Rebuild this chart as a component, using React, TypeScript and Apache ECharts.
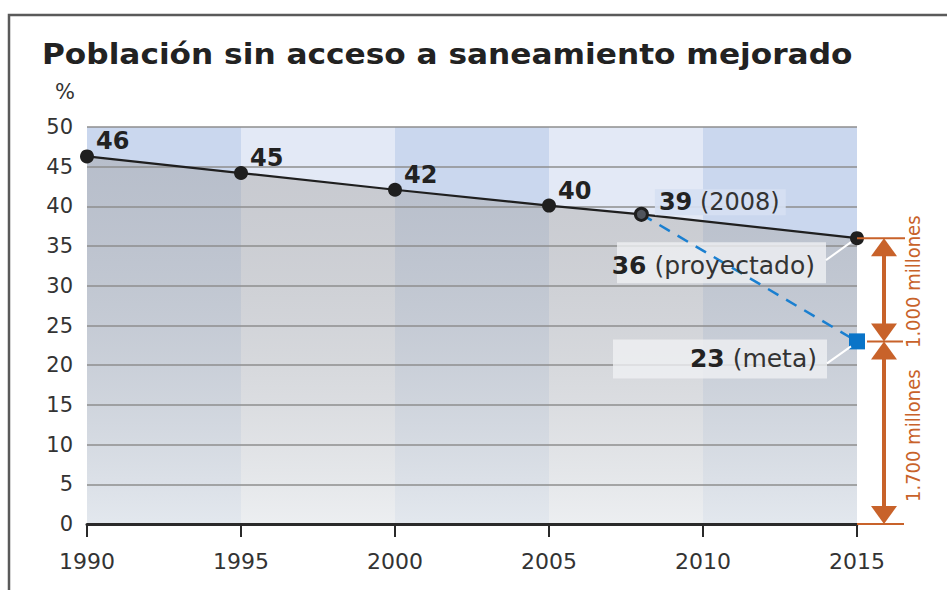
import React, { useEffect, useRef } from "react";
import * as echarts from "echarts";

const titleText = "Población sin acceso a saneamiento mejorado";
const unitText = "%";
const years = [1990, 1995, 2000, 2005, 2008, 2015];
const values = [46.3, 44.2, 42.1, 40.1, 39.0, 36.0];
const valueLabels = ["46", "45", "42", "40", "39", "36"];
const targetYears = [2008, 2015];
const targetValues = [39.0, 23.0];
const bandEdges = [1990, 1995, 2000, 2005, 2010, 2015];
const noteValues = [36, 23];
const noteBold = ["36", "23"];
const noteRest = [" (proyectado)", " (meta)"];
const gapLevels = [36, 23, 0];
const gapLabels = ["1.000 millones", "1.700 millones"];

const FONT = "'DejaVu Sans', 'Open Sans', sans-serif";
const COND_FONT = "'DejaVu Sans Condensed', 'Liberation Sans Narrow', 'DejaVu Sans', sans-serif";
const ORANGE = "#c8622a";

export default function App() {
  const ref = useRef<HTMLDivElement>(null);
  useEffect(() => {
    if (!ref.current) return;
    const chart = echarts.init(ref.current, undefined, { renderer: "svg" });

    const bandData = bandEdges.slice(0, -1).map((s, i) => [s, bandEdges[i + 1]]);

    const mainData = years.map((y, i) => {
      const item: any = { value: [y, values[i]] };
      if (y === 2008) {
        item.symbolSize = 12;
        item.itemStyle = { color: "#50545c", borderColor: "#1f1f1f", borderWidth: 3 };
        item.label = {
          offset: [6, -12],
          backgroundColor: "rgba(214,224,242,0.92)",
          padding: [1, 6, 1, 4],
        };
      }
      if (i === years.length - 1) item.label = { show: false };
      return item;
    });

    const targetData = targetYears.map((y, i) => [y, targetValues[i]]);
    const noteData = noteValues.map((v) => [years[years.length - 1], v]);

    const option: any = {
      animation: false,
      grid: { left: 87, right: 90, top: 127, bottom: 66 },
      graphic: [
        {
          type: "polyline",
          shape: { points: [[947, 15], [9, 15], [9, 590]] },
          style: { stroke: "#5a5a5a", lineWidth: 2.5, fill: "none" },
          z: 10,
        },
        {
          type: "text",
          x: 42,
          y: 54,
          scaleX: 1.115,
          style: {
            text: titleText,
            fontFamily: FONT,
            fontWeight: "bold",
            fontSize: 28,
            fill: "#222",
            verticalAlign: "middle",
          },
          z: 10,
        },
      ],
      xAxis: {
        type: "value",
        min: 1990,
        max: 2015,
        interval: 5,
        z: 3,
        splitLine: { show: false },
        axisLine: { show: true, onZero: false, lineStyle: { color: "#2a2a2a", width: 3 } },
        axisTick: { show: true, length: 13, lineStyle: { color: "#2a2a2a", width: 2 } },
        axisLabel: {
          margin: 26,
          color: "#333",
          fontFamily: FONT,
          fontSize: 22,
          formatter: (v: number) => String(v),
        },
      },
      yAxis: {
        type: "value",
        min: 0,
        max: 50,
        interval: 5,
        z: 2,
        name: unitText,
        nameLocation: "end",
        nameGap: 35,
        nameTextStyle: {
          align: "right",
          verticalAlign: "middle",
          padding: [0, 12, 0, 0],
          color: "#333",
          fontFamily: FONT,
          fontSize: 21,
        },
        axisLine: { show: false },
        axisTick: { show: false },
        splitLine: { show: true, lineStyle: { color: "#8e8e8e", width: 1.5 } },
        axisLabel: { margin: 14, color: "#333", fontFamily: FONT, fontSize: 21 },
      },
      series: [
        {
          type: "custom",
          z: 0,
          silent: true,
          clip: false,
          encode: { x: [0, 1] },
          data: bandData,
          renderItem: (params: any, api: any) => {
            const p0 = api.coord([api.value(0), 50]);
            const p1 = api.coord([api.value(1), 0]);
            return {
              type: "rect",
              shape: { x: p0[0], y: p0[1], width: p1[0] - p0[0], height: p1[1] - p0[1] },
              style: { fill: params.dataIndex % 2 === 0 ? "#cad7ee" : "#e3e9f6" },
            };
          },
        },
        {
          type: "line",
          z: 1,
          silent: true,
          symbol: "none",
          data: years.map((y, i) => [y, values[i]]),
          lineStyle: { width: 0 },
          areaStyle: {
            color: new echarts.graphic.LinearGradient(0, 0, 0, 1, [
              { offset: 0, color: "rgba(150,146,141,0.36)" },
              { offset: 1, color: "rgba(242,242,238,0.62)" },
            ]),
            opacity: 1,
          },
        },
        {
          type: "custom",
          z: 3,
          silent: true,
          clip: false,
          data: noteData,
          renderItem: (params: any, api: any) => {
            const p = api.coord([api.value(0), api.value(1)]);
            const i = params.dataIndex;
            const box = i === 0 ? { x: p[0] - 240, y: p[1] + 4, w: 209, h: 41 } : { x: p[0] - 244, y: p[1] - 2, w: 214, h: 39 };
            return {
              type: "rect",
              shape: { x: box.x, y: box.y, width: box.w, height: box.h },
              style: { fill: "rgba(240,241,243,0.78)" },
            };
          },
        },
        {
          type: "line",
          z: 4,
          clip: false,
          data: targetData,
          symbol: "rect",
          symbolSize: (_v: any, p: any) => (p.dataIndex === targetData.length - 1 ? 16 : 0),
          itemStyle: { color: "#0a74c8" },
          lineStyle: { color: "#1a7fd0", width: 2.5, type: [12, 9] },
        },
        {
          type: "line",
          z: 4,
          clip: false,
          data: mainData,
          symbol: "circle",
          symbolSize: 14,
          itemStyle: { color: "#1f1f1f" },
          lineStyle: { color: "#1f1f1f", width: 2.2 },
          label: {
            show: true,
            position: "right",
            distance: 0,
            offset: [2, -15],
            color: "#222",
            fontFamily: FONT,
            fontSize: 24,
            fontWeight: "bold",
            formatter: (p: any) =>
              years[p.dataIndex] === 2008
                ? `{b|${valueLabels[p.dataIndex]}}{n| (2008)}`
                : valueLabels[p.dataIndex],
            rich: {
              b: { fontFamily: FONT, fontSize: 24, fontWeight: "bold", color: "#222" },
              n: { fontFamily: FONT, fontSize: 24, fontWeight: "normal", color: "#333" },
            },
          },
        },
        {
          type: "custom",
          z: 5,
          silent: true,
          clip: false,
          data: noteData,
          renderItem: (params: any, api: any) => {
            const p = api.coord([api.value(0), api.value(1)]);
            const i = params.dataIndex;
            const lead = i === 0 ? [p[0] - 31, p[1] + 22, p[0] - 6, p[1] + 4] : [p[0] - 30, p[1] + 22, p[0] - 6, p[1] + 5];
            const tx = i === 0 ? p[0] - 42 : p[0] - 40;
            const ty = i === 0 ? p[1] + 27 : p[1] + 17;
            return {
              type: "group",
              children: [
                {
                  type: "line",
                  shape: { x1: lead[0], y1: lead[1], x2: lead[2], y2: lead[3] },
                  style: { stroke: "#ffffff", lineWidth: 2 },
                },
                {
                  type: "text",
                  x: tx,
                  y: ty,
                  style: {
                    text: `{b|${noteBold[i]}}{n|${noteRest[i]}}`,
                    align: "right",
                    verticalAlign: "middle",
                    rich: {
                      b: { fontFamily: FONT, fontSize: 25, fontWeight: "bold", fill: "#222" },
                      n: { fontFamily: FONT, fontSize: 25, fontWeight: "normal", fill: "#333" },
                    },
                  },
                },
              ],
            };
          },
        },
        {
          type: "custom",
          z: 5,
          silent: true,
          clip: false,
          data: [[years[years.length - 1], ...gapLevels]],
          renderItem: (_params: any, api: any) => {
            const x = api.value(0);
            const pa = api.coord([x, api.value(1)]);
            const pb = api.coord([x, api.value(2)]);
            const pc = api.coord([x, api.value(3)]);
            const x0 = pa[0];
            const cx = x0 + 27;
            const ya = pa[1], yb = pb[1], yc = pc[1];
            const hw = 13, ah = 18;
            const stroke = { stroke: ORANGE, lineWidth: 2 };
            const arrow = (tip: number, dir: number) => ({
              type: "polygon",
              shape: { points: [[cx, tip], [cx - hw, tip + dir * ah], [cx + hw, tip + dir * ah]] },
              style: { fill: ORANGE },
            });
            const vtext = (t: string, y: number) => ({
              type: "text",
              x: x0 + 56,
              y,
              rotation: Math.PI / 2,
              style: {
                text: t,
                fill: ORANGE,
                fontFamily: COND_FONT,
                fontSize: 20,
                align: "center",
                verticalAlign: "middle",
              },
            });
            return {
              type: "group",
              children: [
                { type: "line", shape: { x1: x0, y1: ya, x2: x0 + 48, y2: ya }, style: stroke },
                { type: "line", shape: { x1: x0 + 10, y1: yb, x2: x0 + 46, y2: yb }, style: stroke },
                { type: "line", shape: { x1: x0, y1: yc, x2: x0 + 47, y2: yc }, style: stroke },
                { type: "line", shape: { x1: cx, y1: ya + 14, x2: cx, y2: yb - 14 }, style: { stroke: ORANGE, lineWidth: 4 } },
                { type: "line", shape: { x1: cx, y1: yb + 14, x2: cx, y2: yc - 14 }, style: { stroke: ORANGE, lineWidth: 4 } },
                arrow(ya, 1),
                arrow(yb, -1),
                arrow(yb, 1),
                arrow(yc, -1),
                vtext(gapLabels[0], (ya + yb) / 2 - 8),
                vtext(gapLabels[1], (yb + yc) / 2 + 3),
              ],
            };
          },
        },
      ],
    };

    chart.setOption(option);
    return () => chart.dispose();
  }, []);

  return (
    <div
      ref={ref}
      style={{ position: "fixed", left: 0, top: 0, width: 947, height: 590, background: "#fff" }}
    />
  );
}
